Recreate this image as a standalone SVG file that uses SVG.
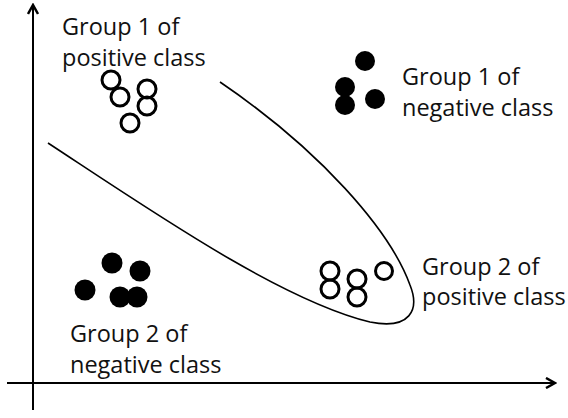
<svg xmlns="http://www.w3.org/2000/svg" width="568" height="418" viewBox="0 0 568 418">
  <style>
    .lbl { font-family: "Open Sans", "Liberation Sans", sans-serif; font-size: 23.5px; fill: #111; }
    .pos { fill: none; stroke: #000; stroke-width: 3; }
    .neg { fill: #000; stroke: none; }
    .axis { fill: none; stroke: #000; stroke-width: 2; }
    .curve { fill: none; stroke: #000; stroke-width: 1.6; }
  </style>
  <defs>
    <marker id="chev" viewBox="0 0 12 12" refX="10" refY="6" markerWidth="12" markerHeight="12" markerUnits="userSpaceOnUse" orient="auto">
      <path d="M1,1 L10,6 L1,11" fill="none" stroke="#000" stroke-width="2.5"/>
    </marker>
  </defs>
  <rect width="568" height="418" fill="#fff"/>

  <g id="connectors">
    <line id="y-axis" class="axis" x1="33" y1="410" x2="33" y2="5" marker-end="url(#chev)"/>
    <line id="x-axis" class="axis" x1="7" y1="383" x2="555" y2="383" marker-end="url(#chev)"/>
    <path id="boundary" class="curve" d="M48,143 C150,210 280,300 370,322 C410,330 420,310 410,285 C390,230 320,150 220,82"/>
  </g>

  <g id="pos-group-1">
    <circle class="pos" cx="111" cy="80" r="9"/>
    <circle class="pos" cx="120" cy="97" r="9"/>
    <circle class="pos" cx="147" cy="89" r="9"/>
    <circle class="pos" cx="147" cy="106" r="9"/>
    <circle class="pos" cx="130" cy="123" r="9"/>
    <text class="lbl" x="62" y="35">Group 1 of</text>
    <text class="lbl" x="62" y="66">positive class</text>
  </g>

  <g id="neg-group-1">
    <circle class="neg" cx="365" cy="61" r="10"/>
    <circle class="neg" cx="345" cy="87" r="10"/>
    <circle class="neg" cx="345" cy="105" r="10"/>
    <circle class="neg" cx="375" cy="99" r="10"/>
    <text class="lbl" x="402" y="85">Group 1 of</text>
    <text class="lbl" x="402" y="116">negative class</text>
  </g>

  <g id="neg-group-2">
    <circle class="neg" cx="112" cy="263" r="10.5"/>
    <circle class="neg" cx="140" cy="271" r="10.5"/>
    <circle class="neg" cx="85" cy="290" r="10.5"/>
    <circle class="neg" cx="120" cy="297" r="10.5"/>
    <circle class="neg" cx="137" cy="297" r="10.5"/>
    <text class="lbl" x="70" y="342">Group 2 of</text>
    <text class="lbl" x="70" y="373">negative class</text>
  </g>

  <g id="pos-group-2">
    <circle class="pos" cx="330" cy="271" r="9"/>
    <circle class="pos" cx="330" cy="289" r="9"/>
    <circle class="pos" cx="357" cy="279" r="9"/>
    <circle class="pos" cx="357" cy="297" r="9"/>
    <circle class="pos" cx="384" cy="271" r="8.5"/>
    <text class="lbl" x="422" y="275">Group 2 of</text>
    <text class="lbl" x="422" y="305">positive class</text>
  </g>
</svg>
